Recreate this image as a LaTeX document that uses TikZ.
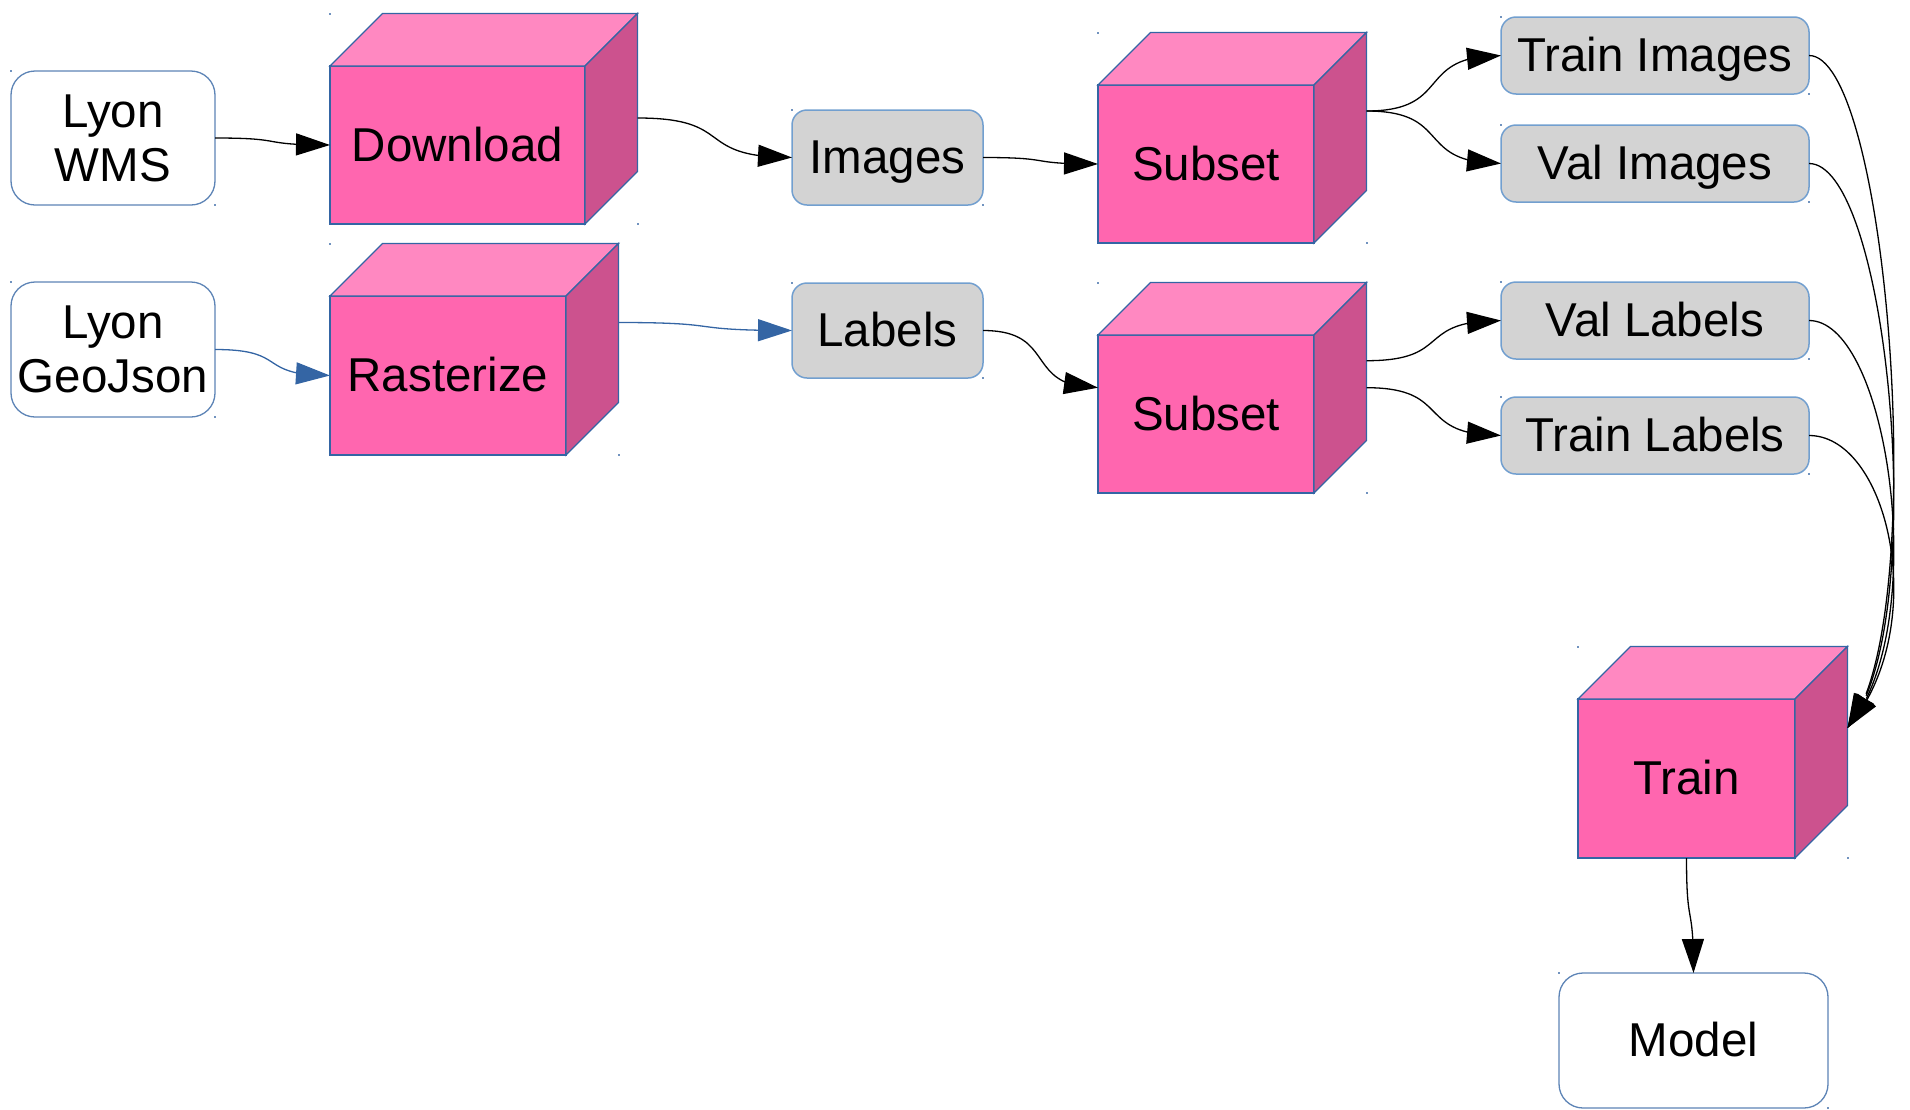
\documentclass[tikz,border=0pt]{standalone}
\usepackage{fontspec}
\setmainfont{Liberation Sans}
\usetikzlibrary{arrows.meta,bending,calc}

\definecolor{cubefrontc}{HTML}{FF66AF}
\definecolor{cubetopc}{HTML}{FF88C1}
\definecolor{cubesidec}{HTML}{CC528E}
\definecolor{edgeblue}{HTML}{3465A4}
\definecolor{boxedge}{HTML}{729FCF}
\definecolor{boxgray}{HTML}{D3D3D3}

% depth of the oblique faces of a cube
\def\cubedepth{52.5}

% cube: front face is a named node, top and side faces are drawn after it
% #1 name, #2 left x, #3 top y, #4 width, #5 height, #6 label
\newcommand\pinkcube[6]{%
  \node[cubefront, minimum width=#4pt, minimum height=#5pt, anchor=north west] (#1) at (#2,#3) {#6};
  \filldraw[cubetop] (#1.north west) -- ++(\cubedepth,-\cubedepth)
    -- ($(#1.north east)+(\cubedepth,-\cubedepth)$) -- (#1.north east) -- cycle;
  \filldraw[cubeside] (#1.north east) -- ++(\cubedepth,-\cubedepth)
    -- ($(#1.south east)+(\cubedepth,-\cubedepth)$) -- (#1.south east) -- cycle;
  \fill[marker] ($(#1.north west)+(-1,-\cubedepth-1)$) rectangle ++(2,2);
  \fill[marker] ($(#1.south east)+(\cubedepth-1,-1)$) rectangle ++(2,2);
}
% corner markers of a box's frame
\newcommand\boxmarks[1]{%
  \fill[marker] ($(#1.north west)+(-1,-1)$) rectangle ++(2,2);
  \fill[marker] ($(#1.south east)+(-1,-1)$) rectangle ++(2,2);
}

\begin{document}
\begin{tikzpicture}[x=1pt, y=-1pt,
  every node/.style={font=\fontsize{47.5}{54}\selectfont, align=center, outer sep=0pt},
  oneline/.style={text height=42.5pt, text depth=10pt},
  cubefront/.style={rectangle, oneline, fill=cubefrontc, draw=edgeblue, line width=1.3pt},
  cubetop/.style={fill=cubetopc, draw=edgeblue, line width=1.3pt},
  cubeside/.style={fill=cubesidec, draw=edgeblue, line width=1.3pt},
  whitebox/.style={rectangle, rounded corners=24pt, draw=edgeblue!80, fill=white, line width=1.3pt},
  graybox/.style={rectangle, oneline, rounded corners=15pt, draw=boxedge, fill=boxgray, line width=1.5pt},
  marker/.style={fill=edgeblue!70},
  conn/.style={draw=black, line width=1.3pt, -{Triangle[length=34pt, width=22pt, flex]}},
  blueconn/.style={draw=edgeblue, line width=1.3pt, -{Triangle[length=34pt, width=22pt, flex]}},
]
\useasboundingbox (0,0) rectangle (1910,1109);

% sources
\node[whitebox, minimum width=204pt, minimum height=134pt] (wms) at (113,138) {Lyon\\WMS};
\node[whitebox, minimum width=204pt, minimum height=135pt] (geojson) at (113,349.5) {Lyon\\GeoJson};
\boxmarks{wms}
\boxmarks{geojson}

% processing steps
\pinkcube{download}{330}{66}{255}{158}{Download}
\pinkcube{rasterize}{330}{296}{236}{159}{Rasterize}
\pinkcube{subsetimg}{1098}{85}{216}{158}{Subset}
\pinkcube{subsetlbl}{1098}{335}{216}{158}{Subset}
\pinkcube{train}{1578}{699}{217}{159}{Train}

% intermediate data
\node[graybox, minimum width=191pt, minimum height=95pt] (images) at (887.5,157.5) {Images};
\node[graybox, minimum width=191pt, minimum height=95pt] (labels) at (887.5,330.5) {Labels};
\node[graybox, minimum width=308pt, minimum height=77pt] (trainimg) at (1655,55.5) {Train Images};
\node[graybox, minimum width=308pt, minimum height=77pt] (valimg) at (1655,163.5) {Val Images};
\node[graybox, minimum width=308pt, minimum height=77pt] (vallbl) at (1655,320.5) {Val Labels};
\node[graybox, minimum width=308pt, minimum height=77pt] (trainlbl) at (1655,435.5) {Train Labels};
\foreach \b in {images,labels,trainimg,valimg,vallbl,trainlbl} {\boxmarks{\b}}

% result
\node[whitebox, oneline, minimum width=269pt, minimum height=135pt] (model) at (1693.5,1040.5) {Model};
\boxmarks{model}

% glue points on the cubes' side faces
\coordinate (download-out) at ($(download.east)+(\cubedepth,-27)$);
\coordinate (rasterize-out) at ($(rasterize.east)+(\cubedepth,-53)$);
\coordinate (subsetimg-out) at ($(subsetimg.east)+(\cubedepth,-53)$);
\coordinate (subsetlbl-outa) at ($(subsetlbl.east)+(\cubedepth,-53.3)$);
\coordinate (subsetlbl-outb) at ($(subsetlbl.east)+(\cubedepth,-26.3)$);
\coordinate (subsetlbl-in) at ($(subsetlbl.west)+(0,-26.3)$);
\coordinate (train-in) at ($(train.east)+(\cubedepth,-50.5)$);

% connectors
\draw[conn] (wms.east) .. controls +(75,0) and +(-75,0) .. (download.west);
\draw[blueconn] (geojson.east) .. controls +(75,0) and +(-75,0) .. (rasterize.west);
\draw[conn] (download-out) .. controls +(100,0) and +(-100,0) .. (images.west);
\draw[blueconn] (rasterize-out) .. controls +(113,0) and +(-113,0) .. (labels.west);
\draw[conn] (images.east) .. controls +(75,0) and +(-75,0) .. (subsetimg.west);
\draw[conn] (labels.east) .. controls +(75,0) and +(-75,0) .. (subsetlbl-in);
\draw[conn] (subsetimg-out) .. controls +(87,0) and +(-87,0) .. (trainimg.west);
\draw[conn] (subsetimg-out) .. controls +(87,0) and +(-87,0) .. (valimg.west);
\draw[conn] (subsetlbl-outa) .. controls +(87,0) and +(-87,0) .. (vallbl.west);
\draw[conn] (subsetlbl-outb) .. controls +(87,0) and +(-87,0) .. (trainlbl.west);
\foreach \b in {trainimg,valimg,vallbl,trainlbl}
  {\draw[conn] (\b.east) .. controls +(80,0) and +(85,-100) .. (train-in);}
\draw[conn] (train.south) .. controls +(0,75) and +(0,-75) .. (model.north);
\end{tikzpicture}
\end{document}
